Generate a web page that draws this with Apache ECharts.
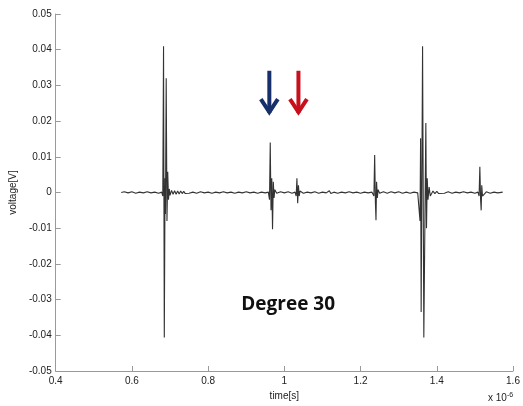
<!DOCTYPE html>
<html><head><meta charset="utf-8">
<script src="https://cdn.jsdelivr.net/npm/echarts@6/dist/echarts.min.js"></script>
<style>html,body{margin:0;padding:0;background:#fff}#c{width:523px;height:406px}</style>
</head><body><div id="c"></div>
<script>
// time in units of 1e-6 s
const time = [
  0.572,0.580,0.590,0.600,0.610,0.620,0.630,0.640,0.650,0.660,0.670,0.678,
  0.681,0.683,0.685,0.687,0.688,0.690,0.692,0.694,0.696,0.698,0.700,
  0.704,0.708,0.712,0.716,0.720,0.724,0.728,0.732,0.736,0.740,0.745,0.750,
  0.760,0.770,0.780,0.790,0.800,0.810,0.820,0.830,0.840,0.850,0.860,0.870,0.880,0.890,0.900,0.910,0.920,0.930,0.940,0.950,0.958,
  0.961,0.963,0.965,0.967,0.969,0.971,0.973,0.975,
  0.980,0.990,1.000,1.010,1.020,1.028,
  1.031,1.033,1.035,1.037,1.039,1.041,
  1.050,1.060,1.070,1.080,1.090,1.100,1.110,1.118,1.122,1.130,1.140,1.150,1.160,1.170,1.180,1.190,1.200,1.210,1.220,1.230,
  1.235,1.237,1.239,1.2405,1.242,1.244,1.246,
  1.250,1.260,1.270,1.280,1.290,1.300,1.310,1.320,1.330,1.340,1.350,
  1.354,1.356,1.3575,1.359,1.3627,1.366,1.3713,1.373,1.375,1.377,1.380,1.383,
  1.390,1.395,1.400,1.405,1.410,1.420,1.430,1.440,1.450,1.460,1.470,1.480,1.490,1.500,1.508,
  1.511,1.513,1.515,1.5165,1.518,1.520,
  1.530,1.540,1.550,1.560,1.573
];
const voltage = [
  0,0.0002,-0.0001,0.0002,-0.0002,0.0001,-0.0001,0.0002,-0.0001,0.0001,-0.0002,0.0001,
  -0.001,0.041,-0.0406,0.004,-0.006,0.032,-0.008,0.0058,-0.002,0.001,-0.0008,
  0.0006,-0.0005,0.0005,-0.0005,0.0004,-0.0004,0.0004,-0.0003,0.0003,-0.0003,0.0002,-0.0002,
  0.0001,-0.0002,0.0002,-0.0001,0.0001,-0.0002,0.0001,-0.0001,0.0002,-0.0001,0.0001,-0.0002,0.0001,-0.0001,0.0002,-0.0001,0.0001,-0.0002,0.0001,-0.0001,0.0001,
  -0.002,0.014,-0.005,0.004,-0.0103,0.003,-0.0015,0.0008,
  -0.0002,0.0002,-0.0001,0.0002,-0.0002,0.0001,
  -0.001,0.004,-0.003,0.002,-0.001,0.0004,
  -0.0002,0.0001,-0.0001,0.0002,-0.0002,0.0001,-0.0001,0.0005,-0.0003,0.0001,-0.0002,0.0001,-0.0001,0.0002,-0.0001,0.0001,-0.0002,0.0001,-0.0001,0.0001,
  -0.001,0.0105,-0.003,-0.0078,0.003,-0.0015,0.0008,
  -0.0002,0.0002,-0.0002,0.0002,-0.0001,0.0002,-0.0002,0.0001,-0.0002,0.0001,-0.0001,
  0.0003,-0.008,0.0152,-0.0335,0.041,-0.0406,0.0195,-0.010,0.004,-0.002,0.0015,-0.001,
  0.0004,-0.0003,0.0003,-0.0003,0.0002,-0.0002,0.0002,-0.0002,0.0001,-0.0001,0.0002,-0.0001,0.0001,-0.0002,0.0001,
  -0.001,0.0072,-0.002,-0.005,0.002,-0.001,
  0.0002,-0.0002,0.0001,-0.0001,0.0001
];
const xMin = 0.4, xMax = 1.6, xStep = 0.2;
const yMin = -0.05, yMax = 0.05, yStep = 0.01;
const xAxisName = 'time[s]';
const yAxisName = 'voltage[V]';
const annotation = 'Degree 30';
const annotationPos = [1.010, -0.0313];
const arrowTimes = [0.9606, 1.037];
const arrowColors = ['#172f6b', '#c8101c'];
const arrowTop = 0.0341, arrowTip = 0.0217;

const data = time.map((t, i) => [t, voltage[i]]);
const FONT = '"Liberation Sans", Arial, sans-serif';
const axisCommon = {
  axisLine: {onZero: false, lineStyle: {color: '#9a9a9a', width: 1}},
  axisTick: {inside: true, length: 5, lineStyle: {color: '#9a9a9a'}},
  axisLabel: {color: '#222', fontSize: 10, fontFamily: FONT, showMinLabel: true, showMaxLabel: true},
  splitLine: {show: false},
  nameTextStyle: {color: '#222', fontSize: 10, fontFamily: FONT}
};
const chart = echarts.init(document.getElementById('c'), null, {renderer: 'canvas'});
chart.setOption({
  animation: false,
  backgroundColor: '#fff',
  grid: {left: 54, right: 10, top: 14, bottom: 35},
  xAxis: Object.assign({}, axisCommon, {
    type: 'value', min: xMin, max: xMax, interval: xStep,
    name: xAxisName, nameLocation: 'middle', nameGap: 19,
    axisLabel: Object.assign({}, axisCommon.axisLabel, {margin: 5})
  }),
  yAxis: Object.assign({}, axisCommon, {
    type: 'value', min: yMin, max: yMax, interval: yStep,
    name: yAxisName, nameLocation: 'middle', nameGap: 25,
    axisLabel: Object.assign({}, axisCommon.axisLabel, {margin: 4})
  }),
  series: [{
    type: 'line', data: data, showSymbol: false, symbol: 'none',
    lineStyle: {color: '#333', width: 1.1}
  }]
});

const g = [];
arrowTimes.forEach((t, i) => {
  const top = chart.convertToPixel({gridIndex: 0}, [t, arrowTop]);
  const tip = chart.convertToPixel({gridIndex: 0}, [t, arrowTip]);
  const x = top[0];
  g.push({type: 'line', shape: {x1: x, y1: top[1], x2: x, y2: tip[1] - 2}, style: {stroke: arrowColors[i], lineWidth: 4}});
  g.push({type: 'polyline', shape: {points: [[x - 8.5, tip[1] - 16], [x, tip[1] - 3], [x + 8.5, tip[1] - 16]]},
    style: {stroke: arrowColors[i], lineWidth: 4, fill: null, lineJoin: 'miter'}});
});
const ap = chart.convertToPixel({gridIndex: 0}, annotationPos);
g.push({type: 'text', x: ap[0], y: ap[1], style: {text: annotation, font: 'bold 19px "Open Sans", "Noto Sans", sans-serif', fill: '#111', textAlign: 'center', textVerticalAlign: 'middle'}});
g.push({type: 'text', x: 488, y: 392, style: {
  text: 'x 10{s|-6}', fill: '#222', font: '10px ' + FONT,
  rich: {s: {fontSize: 7, fontFamily: FONT, fill: '#222', verticalAlign: 'top', padding: [0, 0, 6, 0]}}
}});
chart.setOption({graphic: g});
</script>
</body></html>
